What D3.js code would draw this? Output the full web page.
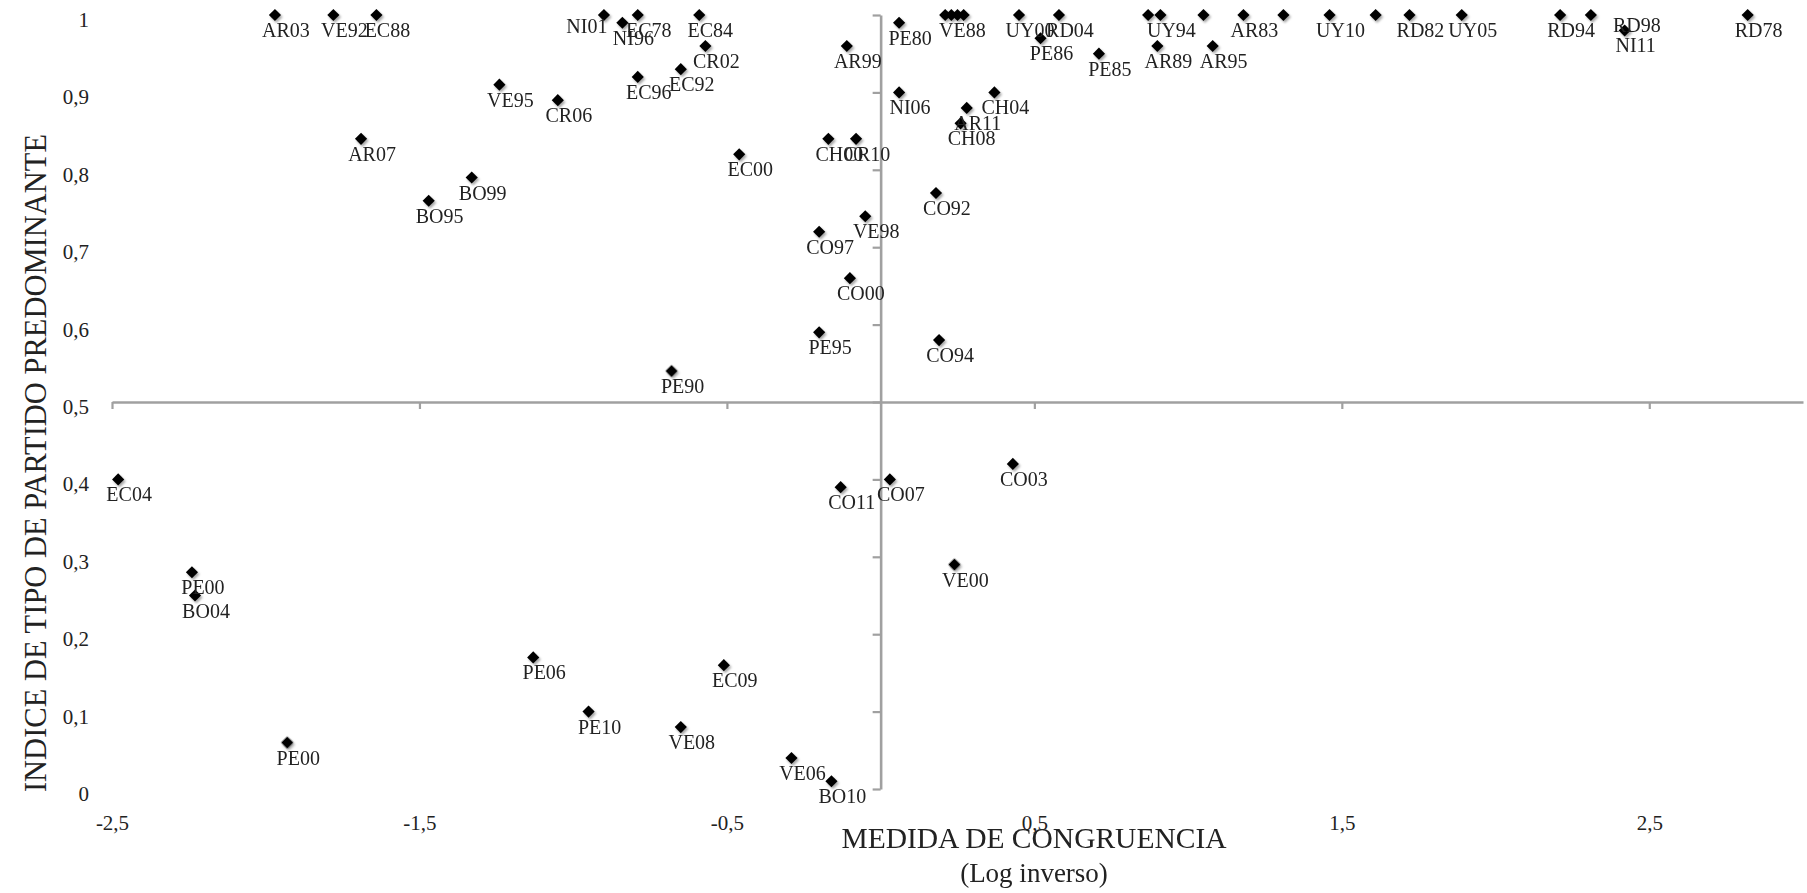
<!DOCTYPE html>
<html>
<head>
<meta charset="utf-8">
<script src="https://cdn.jsdelivr.net/npm/d3@7"></script>
<style>
  html, body { margin: 0; padding: 0; background: #fff; }
  svg { display: block; }
  text { font-family: "Liberation Serif", "DejaVu Serif", serif; fill: #222; }
</style>
</head>
<body>
<svg id="chart" width="1807" height="893"></svg>
<script>
// ---- data ----
const labels = [
  "AR03","VE92","EC88","NI01","NI96","EC78","EC84","CR02","EC96","EC92",
  "VE95","CR06","AR07","BO99","BO95","EC00","AR99","CH00","CR10","PE80",
  "","VE88","","","UY00","RD04","PE86","PE85","NI06","CH04",
  "AR11","CH08","CO92","","UY94","AR89","","AR83","AR95","",
  "UY10","","RD82","UY05","RD94","RD98","NI11","RD78","VE98","CO97",
  "CO00","PE95","CO94","PE90","EC04","PE00","BO04","PE06","CO11","CO07",
  "CO03","VE00","EC09","PE00","PE10","VE08","VE06","BO10"
];
const xValues = [
  -1.97,-1.78,-1.64,-0.90,-0.84,-0.79,-0.59,-0.57,-0.79,-0.65,
  -1.24,-1.05,-1.69,-1.33,-1.47,-0.46,-0.11,-0.17,-0.08,0.06,
  0.21,0.23,0.25,0.27,0.45,0.58,0.52,0.71,0.06,0.37,
  0.28,0.26,0.18,0.87,0.91,0.90,1.05,1.18,1.08,1.31,
  1.46,1.61,1.72,1.89,2.21,2.31,2.42,2.82,-0.05,-0.20,
  -0.10,-0.20,0.19,-0.68,-2.48,-2.24,-2.23,-1.13,-0.13,0.03,
  0.43,0.24,-0.51,-1.93,-0.95,-0.65,-0.29,-0.16
];
const yValues = [
  1.00,1.00,1.00,1.00,0.99,1.00,1.00,0.96,0.92,0.93,
  0.91,0.89,0.84,0.79,0.76,0.82,0.96,0.84,0.84,0.99,
  1.00,1.00,1.00,1.00,1.00,1.00,0.97,0.95,0.90,0.90,
  0.88,0.86,0.77,1.00,1.00,0.96,1.00,1.00,0.96,1.00,
  1.00,1.00,1.00,1.00,1.00,1.00,0.98,1.00,0.74,0.72,
  0.66,0.59,0.58,0.54,0.40,0.28,0.25,0.17,0.39,0.40,
  0.42,0.29,0.16,0.06,0.10,0.08,0.04,0.01
];
const xTicks = [-2.5, -1.5, -0.5, 0.5, 1.5, 2.5];
const yTicks = [0, 0.1, 0.2, 0.3, 0.4, 0.5, 0.6, 0.7, 0.8, 0.9, 1];
const xTitle = "MEDIDA DE CONGRUENCIA";
const xSubtitle = "(Log inverso)";
const yTitle = "INDICE DE TIPO DE PARTIDO PREDOMINANTE";
// manually moved labels (as in the reference)
const labelNudge = { "RD98": [35, -5], "NI01": [-28, -4] };

// ---- layout ----
const svg = d3.select("#chart");
const x = d3.scaleLinear().domain([-2.5, 3]).range([112, 1803]);
const y = d3.scaleLinear().domain([0, 1]).range([789, 15]);
const fmt = d => String(d).replace(".", ",");
const axisColor = "#a0a0a0";

const defs = svg.append("defs");
const f = defs.append("filter").attr("id", "sh").attr("x", "-50%").attr("y", "-50%").attr("width", "200%").attr("height", "200%");
f.append("feDropShadow").attr("dx", 1.5).attr("dy", 2).attr("stdDeviation", 1.3)
  .attr("flood-color", "#000").attr("flood-opacity", 0.35);

// horizontal axis line through y=0.5
const gx = svg.append("g").attr("transform", `translate(0,${y(0.5)})`)
  .call(d3.axisBottom(x).tickValues(xTicks).tickSize(7).tickFormat("").tickSizeOuter(0));
// vertical axis through x=0
const gy = svg.append("g").attr("transform", `translate(${x(0)},0)`)
  .call(d3.axisLeft(y).tickValues(yTicks).tickSize(8).tickFormat("").tickSizeOuter(0));
[gx, gy].forEach(g => {
  g.select(".domain").attr("stroke", axisColor).attr("stroke-width", 2.6);
  g.selectAll(".tick line").attr("stroke", axisColor).attr("stroke-width", 2.2);
});

// tick labels (low position)
const lx = svg.append("g").attr("transform", `translate(0,${y(0)})`)
  .call(d3.axisBottom(x).tickValues(xTicks).tickSize(0).tickPadding(26).tickFormat(fmt));
lx.select(".domain").remove();
lx.selectAll("text").attr("font-size", 21).attr("font-family", "Liberation Serif").attr("fill", "#222");

const ly = svg.append("g").attr("transform", `translate(112,0)`)
  .call(d3.axisLeft(y).tickValues(yTicks).tickSize(0).tickPadding(23).tickFormat(fmt));
ly.select(".domain").remove();
ly.selectAll("text").attr("font-size", 21).attr("dy", "0.55em").attr("font-family", "Liberation Serif").attr("fill", "#222");

// data
const data = labels.map((l, i) => ({ label: l, x: xValues[i], y: yValues[i] }));
const sym = d3.symbol().type(d3.symbolSquare).size(74);
svg.append("g").attr("filter", "url(#sh)")
  .selectAll("path").data(data).join("path")
  .attr("d", sym)
  .attr("transform", d => `translate(${x(d.x)},${y(d.y)}) rotate(45)`)
  .attr("fill", "#000");

svg.append("g").selectAll("text").data(data.filter(d => d.label)).join("text")
  .attr("x", d => x(d.x) + 11 + (labelNudge[d.label] ? labelNudge[d.label][0] : 0))
  .attr("y", d => y(d.y) + 22 + (labelNudge[d.label] ? labelNudge[d.label][1] : 0))
  .attr("text-anchor", "middle")
  .attr("font-size", 20)
  .text(d => d.label);

// titles
svg.append("text").attr("x", 1034).attr("y", 848).attr("text-anchor", "middle")
  .attr("font-size", 29.5).text(xTitle);
svg.append("text").attr("x", 1034).attr("y", 882).attr("text-anchor", "middle")
  .attr("font-size", 27).text(xSubtitle);
svg.append("text").attr("transform", "translate(46,463) rotate(-90)").attr("text-anchor", "middle")
  .attr("font-size", 30.5).text(yTitle);
</script>
</body>
</html>
